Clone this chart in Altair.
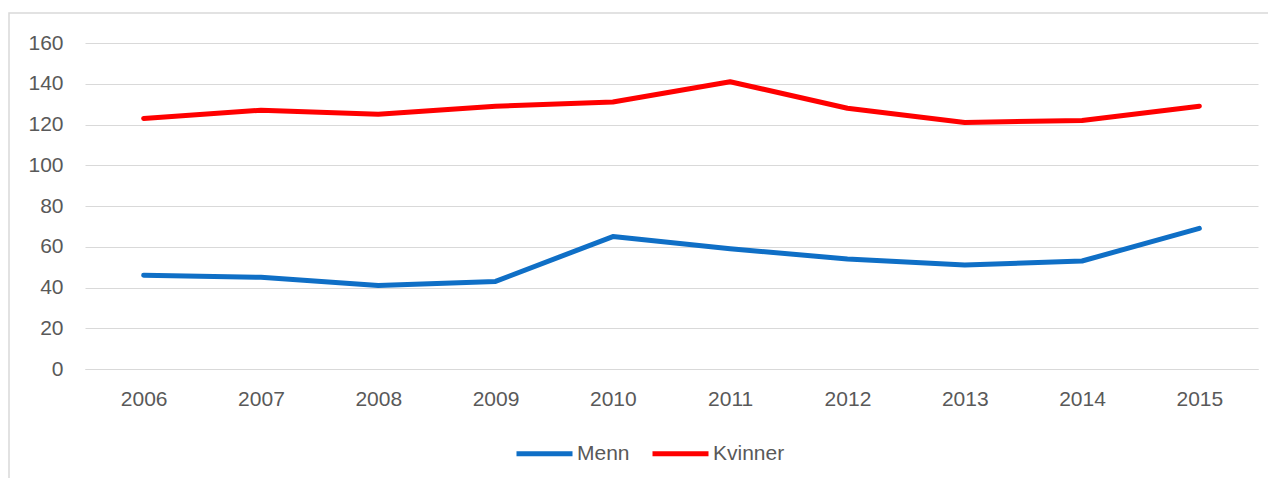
import altair as alt
import pandas as pd

years = ["2006", "2007", "2008", "2009", "2010", "2011", "2012", "2013", "2014", "2015"]
menn = [46, 45, 41, 43, 65, 59, 54, 51, 53, 69]
kvinner = [123, 127, 125, 129, 131, 141, 128, 121, 122, 129]
series = ["Menn", "Kvinner"]
colors = ["#0F6FC6", "#FF0000"]

rows = []
for name, vals in zip(series, [menn, kvinner]):
    for y, v in zip(years, vals):
        rows.append({"År": y, "Verdi": v, "Serie": name})
df = pd.DataFrame(rows)

FONT = "Liberation Sans"
TXT = "#595959"

border = alt.Chart(pd.DataFrame({"a": [0]})).mark_rect(
    fill=None, stroke="#D9D9D9", strokeWidth=1.5, clip=False
).encode(
    x=alt.value(-76), x2=alt.value(1185), y=alt.value(-30), y2=alt.value(460)
)

lines = alt.Chart(df).mark_line(strokeWidth=5, strokeCap="round", strokeJoin="round").encode(
    x=alt.X("År:O", sort=years,
            scale=alt.Scale(type="point", padding=0.5),
            axis=alt.Axis(title=None, labelAngle=0, ticks=False, domain=True,
                          domainColor="#D9D9D9", labelPadding=19, grid=False)),
    y=alt.Y("Verdi:Q", scale=alt.Scale(domain=[0, 160], nice=False),
            axis=alt.Axis(title=None, values=list(range(0, 161, 20)), ticks=False,
                          domain=False, labelPadding=22, gridColor="#D9D9D9", gridWidth=1)),
    color=alt.Color("Serie:N", scale=alt.Scale(domain=series, range=colors),
                    sort=series,
                    legend=alt.Legend(title=None, orient="none", direction="horizontal",
                                      legendX=429, legendY=380,
                                      symbolType="stroke", symbolSize=3136,
                                      symbolStrokeWidth=5, labelOffset=2,
                                      columnPadding=12)),
)

chart = alt.layer(border, lines).properties(
    width=1173, height=326,
    autosize=alt.AutoSizeParams(type="none"),
    padding={"left": 77, "top": 35, "right": 10, "bottom": 109},
).configure_view(stroke=None).configure_axis(
    labelFont=FONT, labelFontSize=21, labelColor=TXT
).configure_legend(
    labelFont=FONT, labelFontSize=21, labelColor=TXT
)

chart.save("out.html", embed_options={"renderer": "svg", "actions": False})
